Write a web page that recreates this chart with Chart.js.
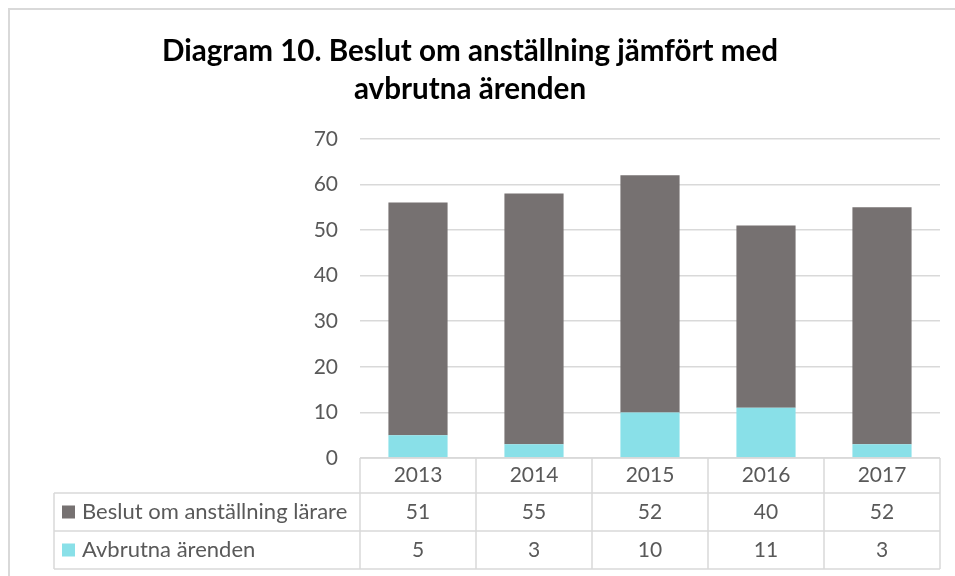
<!DOCTYPE html>
<html>
<head>
<meta charset="utf-8">
<style>
    html, body { margin: 0; padding: 0; background: #fff; }
    #wrap { width: 955px; height: 576px; position: relative; }
</style>
</head>
<body>
<div id="wrap"><canvas id="myChart" width="955" height="576"></canvas></div>
<script src="https://cdn.jsdelivr.net/npm/chart.js@4.4.0/dist/chart.umd.min.js"></script>
<script>
    // data
    var years = ['2013', '2014', '2015', '2016', '2017'];
    var beslutLabel = 'Beslut om anställning lärare';
    var beslut = [51, 55, 52, 40, 52];
    var avbrutnaLabel = 'Avbrutna ärenden';
    var avbrutna = [5, 3, 10, 11, 3];
    var yTicks = [0, 10, 20, 30, 40, 50, 60, 70];

    var grey = '#767171';
    var cyan = '#89E0E8';
    var textCol = '#595959';
    var lineCol = '#d9d9d9';
    var fontFam = 'Lato, "Open Sans", sans-serif';

    // data table under the plot, drawn from the x scale
    var tablePlugin = {
        id: 'dataTable',
        afterDraw: function (chart) {
            var ctx = chart.ctx;
            var xs = chart.scales.x;
            var area = chart.chartArea;
            var colW = area.width / years.length;
            var rowTop = [area.bottom, area.bottom + 35, area.bottom + 73, area.bottom + 111];
            var legLeft = 54;
            ctx.save();
            // frame round the whole chart
            ctx.strokeStyle = lineCol;
            ctx.lineWidth = 2;
            ctx.strokeRect(9, 9, 960, 600);

            ctx.lineWidth = 1.5;
            ctx.beginPath();
            // horizontal lines
            ctx.moveTo(area.left, rowTop[0]); ctx.lineTo(area.right, rowTop[0]);
            for (var r = 1; r < 4; r++) {
                ctx.moveTo(legLeft, rowTop[r]); ctx.lineTo(area.right, rowTop[r]);
            }
            // vertical lines
            for (var i = 0; i <= years.length; i++) {
                var x = area.left + i * colW;
                ctx.moveTo(x, rowTop[0]); ctx.lineTo(x, rowTop[3]);
            }
            ctx.moveTo(legLeft, rowTop[1]); ctx.lineTo(legLeft, rowTop[3]);
            ctx.stroke();

            ctx.fillStyle = textCol;
            ctx.font = '21px ' + fontFam;
            ctx.textAlign = 'center';
            ctx.textBaseline = 'middle';
            var rows = [years, beslut, avbrutna];
            for (var r = 0; r < 3; r++) {
                var yMid = (rowTop[r] + rowTop[r + 1]) / 2;
                for (var i = 0; i < years.length; i++) {
                    ctx.fillText(String(rows[r][i]), xs.getPixelForValue(i), yMid);
                }
            }
            // legend keys
            var leg = [[beslutLabel, grey], [avbrutnaLabel, cyan]];
            ctx.textAlign = 'left';
            ctx.font = '22px ' + fontFam;
            for (var k = 0; k < 2; k++) {
                var yMid = (rowTop[k + 1] + rowTop[k + 2]) / 2;
                ctx.fillStyle = leg[k][1];
                ctx.fillRect(62, yMid - 6.5, 13, 13);
                ctx.fillStyle = textCol;
                ctx.fillText(leg[k][0], 82, yMid);
            }
            ctx.restore();
        }
    };

    var ctx = document.getElementById('myChart').getContext('2d');
    var myChart = new Chart(ctx, {
        type: 'bar',
        data: {
            labels: years,
            datasets: [{
                label: avbrutnaLabel,
                data: avbrutna,
                backgroundColor: cyan
            }, {
                label: beslutLabel,
                data: beslut,
                backgroundColor: grey
            }]
        },
        options: {
            responsive: false,
            animation: false,
            layout: { padding: { left: 0, right: 15, top: 0, bottom: 118 } },
            datasets: { bar: { categoryPercentage: 1, barPercentage: 0.51 } },
            plugins: {
                legend: { display: false },
                tooltip: { enabled: false },
                title: {
                    display: true,
                    text: ['Diagram 10. Beslut om anställning jämfört med', 'avbrutna ärenden'],
                    color: '#000',
                    font: { family: fontFam, size: 29.6, weight: 'bold', lineHeight: 1.28 },
                    padding: { top: 33, bottom: 30 }
                }
            },
            scales: {
                x: { stacked: true, display: false },
                y: {
                    stacked: true,
                    min: 0,
                    max: 70,
                    afterFit: function (s) { s.width = 360; },
                    afterBuildTicks: function (s) { s.ticks = yTicks.map(function (v) { return { value: v }; }); },
                    border: { display: false },
                    grid: { color: lineCol, lineWidth: 1.5, drawTicks: false },
                    ticks: { color: textCol, padding: 22, font: { family: fontFam, size: 21 } }
                }
            }
        },
        plugins: [tablePlugin]
    });
</script>
</body>
</html>
